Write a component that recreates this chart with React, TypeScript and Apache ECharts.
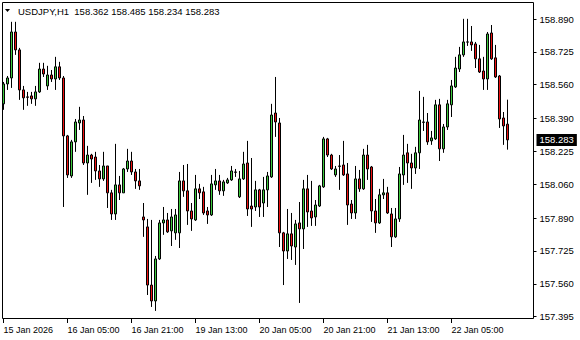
import React, { useEffect, useRef } from "react";
import * as echarts from "echarts";

const symbol = "USDJPY,H1";

const opens = [
  158.464, 158.564, 158.594, 158.825, 158.735, 158.534, 158.499, 158.504, 158.489, 158.524,
  158.639, 158.554, 158.609, 158.589, 158.650, 158.594, 158.303, 158.102, 158.273, 158.368,
  158.383, 158.167, 158.207, 158.197, 158.127, 158.087, 158.152, 158.017, 157.911, 158.057,
  158.017, 158.137, 158.177, 158.122, 158.077, 157.896, 157.846, 157.554, 157.474, 157.685,
  157.866, 157.881, 157.826, 157.816, 157.816, 158.077, 158.027, 157.926, 157.881, 158.037,
  158.022, 157.926, 157.906, 158.057, 158.077, 158.027, 158.067, 158.082, 158.122, 157.997,
  158.087, 158.167, 157.951, 157.946, 158.032, 157.966, 158.032, 158.097, 158.418, 158.368,
  157.816, 157.725, 157.811, 157.745, 157.866, 157.836, 158.037, 157.926, 157.896, 157.951,
  158.047, 158.288, 158.207, 158.107, 158.152, 158.157, 158.112, 157.961, 157.916, 158.087,
  158.037, 158.207, 158.147, 157.926, 157.866, 158.007, 158.017, 157.911, 157.796, 157.886,
  158.107, 158.218, 158.167, 158.142, 158.218, 158.373, 158.373, 158.278, 158.288, 158.459,
  158.238, 158.348, 158.459, 158.549, 158.639, 158.710, 158.775, 158.775, 158.765, 158.690,
  158.629, 158.589, 158.820, 158.695, 158.604, 158.393, 158.362,
];

const highs = [
  158.574, 158.604, 158.876, 158.876, 158.745, 158.554, 158.524, 158.524, 158.554, 158.670,
  158.670, 158.655, 158.634, 158.700, 158.675, 158.604, 158.308, 158.283, 158.388, 158.449,
  158.403, 158.253, 158.213, 158.223, 158.157, 158.223, 158.152, 158.032, 158.263, 158.102,
  158.142, 158.238, 158.223, 158.137, 158.137, 157.966, 157.886, 157.881, 157.700, 157.881,
  157.946, 157.916, 157.936, 157.936, 158.122, 158.157, 158.162, 157.966, 158.107, 158.062,
  158.047, 157.946, 158.107, 158.137, 158.107, 158.082, 158.092, 158.152, 158.137, 158.127,
  158.223, 158.278, 158.192, 158.077, 158.037, 158.097, 158.122, 158.464, 158.599, 158.393,
  157.821, 157.936, 157.916, 157.881, 157.971, 158.082, 158.107, 158.077, 157.981, 158.057,
  158.298, 158.293, 158.213, 158.152, 158.207, 158.278, 158.167, 157.981, 158.152, 158.132,
  158.238, 158.258, 158.152, 157.986, 158.037, 158.087, 158.047, 157.941, 157.941, 158.147,
  158.308, 158.263, 158.213, 158.248, 158.529, 158.499, 158.418, 158.328, 158.484, 158.489,
  158.363, 158.484, 158.584, 158.700, 158.750, 158.891, 158.891, 158.855, 158.775, 158.760,
  158.700, 158.825, 158.860, 158.760, 158.609, 158.423, 158.485,
];

const lows = [
  158.434, 158.534, 158.544, 158.710, 158.484, 158.434, 158.454, 158.464, 158.454, 158.519,
  158.599, 158.534, 158.574, 158.534, 158.584, 157.946, 158.092, 158.092, 158.223, 158.333,
  158.157, 158.007, 158.067, 158.082, 158.047, 158.077, 157.941, 157.881, 157.881, 157.981,
  158.017, 158.122, 158.107, 158.037, 158.032, 157.796, 157.504, 157.444, 157.424, 157.680,
  157.806, 157.816, 157.750, 157.781, 157.740, 157.997, 157.856, 157.826, 157.876, 157.986,
  157.906, 157.861, 157.901, 158.032, 158.007, 158.002, 158.062, 158.077, 158.097, 157.991,
  158.082, 157.901, 157.846, 157.926, 157.896, 157.896, 157.946, 158.092, 158.298, 157.745,
  157.554, 157.685, 157.680, 157.655, 157.464, 157.735, 157.846, 157.851, 157.851, 157.946,
  158.042, 158.197, 158.132, 158.097, 158.032, 158.102, 157.856, 157.886, 157.886, 158.022,
  158.032, 158.082, 157.871, 157.816, 157.861, 157.986, 157.911, 157.745, 157.791, 157.871,
  158.057, 158.067, 158.037, 158.112, 158.137, 158.328, 158.258, 158.258, 158.283, 158.177,
  158.218, 158.333, 158.398, 158.544, 158.624, 158.700, 158.755, 158.730, 158.644, 158.619,
  158.534, 158.534, 158.685, 158.594, 158.343, 158.258, 158.234,
];

const closes = [
  158.564, 158.594, 158.825, 158.735, 158.534, 158.494, 158.497, 158.489, 158.524, 158.639,
  158.614, 158.609, 158.589, 158.650, 158.594, 158.303, 158.107, 158.273, 158.373, 158.383,
  158.167, 158.207, 158.187, 158.127, 158.087, 158.152, 158.017, 157.911, 158.057, 158.017,
  158.137, 158.177, 158.122, 158.077, 158.052, 157.881, 157.554, 157.474, 157.685, 157.866,
  157.881, 157.821, 157.896, 157.906, 158.077, 158.027, 157.926, 157.886, 158.037, 158.017,
  157.916, 157.906, 158.062, 158.077, 158.027, 158.072, 158.082, 158.127, 158.120, 158.087,
  158.162, 157.936, 157.936, 158.032, 157.946, 158.032, 158.102, 158.408, 158.373, 157.816,
  157.725, 157.811, 157.750, 157.861, 157.836, 158.037, 157.921, 157.891, 157.956, 158.052,
  158.288, 158.207, 158.137, 158.137, 158.150, 158.107, 157.956, 157.916, 158.087, 158.037,
  158.207, 158.137, 157.926, 157.866, 158.007, 158.017, 157.916, 157.796, 157.886, 158.112,
  158.207, 158.167, 158.142, 158.218, 158.383, 158.371, 158.273, 158.293, 158.459, 158.238,
  158.348, 158.464, 158.554, 158.644, 158.710, 158.775, 158.774, 158.760, 158.690, 158.624,
  158.589, 158.815, 158.690, 158.599, 158.388, 158.353, 158.283,
];

const priceTicks = [157.395, 157.56, 157.725, 157.89, 158.06, 158.225, 158.39, 158.56, 158.725, 158.89];

const timeLabels = [
  "15 Jan 2026",
  "16 Jan 05:00",
  "16 Jan 21:00",
  "19 Jan 13:00",
  "20 Jan 05:00",
  "20 Jan 21:00",
  "21 Jan 13:00",
  "22 Jan 05:00",
];

const BARS_PER_LABEL = 16;
const TOTAL_SLOTS = 133;
const Y_MIN = 157.3834;
const Y_MAX = 158.9705;

const FONT = "Liberation Sans, Arial, sans-serif";

export default function App() {
  const ref = useRef<HTMLDivElement>(null);

  useEffect(() => {
    if (!ref.current) return;
    const chart = echarts.init(ref.current, undefined, { renderer: "svg" });

    const categories = Array.from({ length: TOTAL_SLOTS }, (_, i) => String(i));
    const candleData = opens.map((o, i) => [o, closes[i], lows[i], highs[i]]);
    const n = opens.length;
    const last = n - 1;
    const lastClose = closes[last];
    const title = `${symbol}  ${opens[last].toFixed(3)} ${highs[last].toFixed(3)} ${lows[last].toFixed(3)} ${closes[last].toFixed(3)}`;

    const isTickIdx = (idx: number) =>
      idx % BARS_PER_LABEL === 0 && idx / BARS_PER_LABEL < timeLabels.length;

    chart.setOption({
      animation: false,
      backgroundColor: "#ffffff",
      grid: { left: 3.5, top: 3, width: 528, height: 316, containLabel: false },
      xAxis: {
        type: "category",
        data: categories,
        boundaryGap: false,
        axisLine: { show: false },
        axisTick: {
          show: true,
          interval: (idx: number) => isTickIdx(idx),
          length: 4,
          lineStyle: { color: "#000", width: 1 },
        },
        axisLabel: {
          show: true,
          interval: (idx: number) => isTickIdx(idx),
          formatter: (_v: string, idx: number) => timeLabels[idx / BARS_PER_LABEL] ?? "",
          align: "left",
          margin: 6,
          fontSize: 9,
          fontFamily: FONT,
          color: "#000",
        },
        splitLine: { show: false },
      },
      yAxis: [
        {
          type: "value",
          min: Y_MIN,
          max: Y_MAX,
          position: "right",
          offset: 2,
          axisLine: { show: false },
          splitLine: { show: false },
          axisTick: {
            show: true,
            customValues: priceTicks,
            length: 3,
            lineStyle: { color: "#000", width: 1 },
          },
          axisLabel: {
            show: true,
            customValues: priceTicks,
            formatter: (v: number) => v.toFixed(3),
            margin: 6,
            fontSize: 9.5,
            fontFamily: FONT,
            color: "#000",
          },
        },
        {
          type: "value",
          min: Y_MIN,
          max: Y_MAX,
          position: "right",
          offset: 2,
          axisLine: { show: false },
          splitLine: { show: false },
          axisTick: { show: false },
          axisLabel: {
            show: true,
            customValues: [lastClose],
            formatter: (v: number) => v.toFixed(3),
            margin: 3,
            fontSize: 9.5,
            fontFamily: FONT,
            color: "#fff",
            backgroundColor: "#000",
            padding: [1, 3, 1, 3],
          },
        },
      ],
      series: [
        {
          type: "candlestick",
          data: candleData,
          barWidth: 2,
          clip: false,
          itemStyle: {
            color: "#3cc83c",
            color0: "#ee1111",
            borderColor: "#000",
            borderColor0: "#000",
            borderColorDoji: "#000",
            borderWidth: 1,
          },
        },
      ],
      graphic: [
        {
          type: "rect",
          shape: { x: 2.5, y: 2.5, width: 531, height: 316 },
          style: { fill: "none", stroke: "#000", lineWidth: 1 },
          silent: true,
          z: 10,
        },
        {
          type: "polygon",
          shape: { points: [[5, 9], [10, 9], [7.5, 12]] },
          style: { fill: "#000" },
          silent: true,
        },
        {
          type: "text",
          x: 18,
          y: 11,
          style: {
            text: title,
            font: `9.5px ${FONT}`,
            fill: "#000",
            textVerticalAlign: "middle",
          },
          silent: true,
        },
      ],
    });

    return () => chart.dispose();
  }, []);

  return (
    <div
      ref={ref}
      style={{ position: "fixed", left: 0, top: 0, width: 580, height: 340, background: "#fff" }}
    />
  );
}
